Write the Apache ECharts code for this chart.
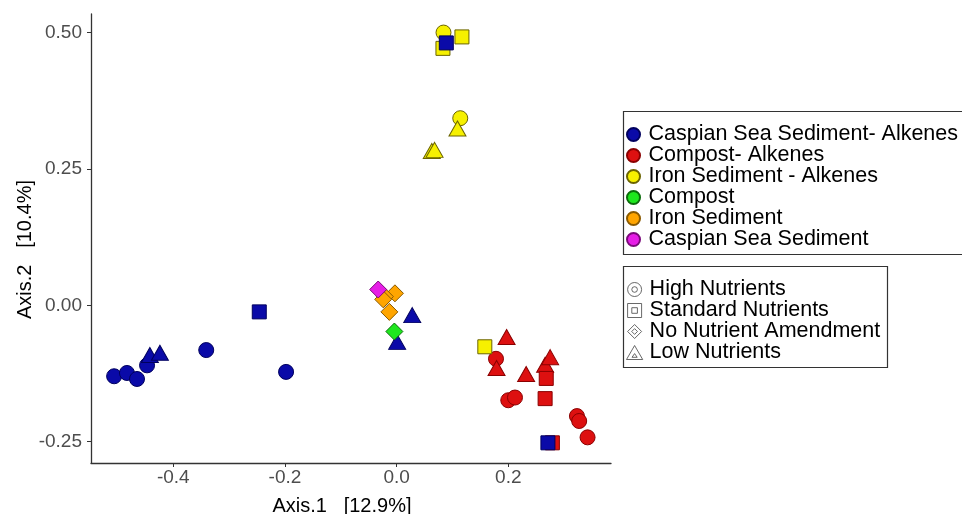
<!DOCTYPE html>
<html>
<head>
<meta charset="utf-8">
<script src="https://cdn.jsdelivr.net/npm/echarts@6/dist/echarts.min.js"></script>
<style>
  html, body { margin: 0; padding: 0; background: #ffffff; }
  #main { width: 962px; height: 514px; }
</style>
</head>
<body>
<div id="main"></div>
<script>
// Ordination scores: [Axis.1, Axis.2, nutrient treatment]
// H = High Nutrients, S = Standard Nutrients, N = No Nutrient Amendment, L = Low Nutrients
const caspianAlkenes = [
  [-0.506, -0.130, 'H'], [-0.483, -0.124, 'H'], [-0.465, -0.135, 'H'],
  [-0.447, -0.110, 'H'], [-0.341, -0.082, 'H'], [-0.198, -0.122, 'H'],
  [-0.442, -0.091, 'L'], [-0.424, -0.087, 'L'], [-0.246, -0.012, 'S'],
  [0.028, -0.018, 'L'], [0.001, -0.067, 'L'], [0.089, 0.481, 'S'],
  [0.271, -0.252, 'S']
];
const compostAlkenes = [
  [0.178, -0.098, 'H'], [0.179, -0.115, 'L'], [0.197, -0.058, 'L'],
  [0.232, -0.126, 'L'], [0.266, -0.109, 'L'], [0.275, -0.095, 'L'],
  [0.200, -0.174, 'H'], [0.212, -0.169, 'H'], [0.323, -0.203, 'H'],
  [0.327, -0.212, 'H'], [0.342, -0.242, 'H'], [0.268, -0.134, 'S'],
  [0.266, -0.171, 'S'], [0.279, -0.252, 'S']
];
const ironAlkenes = [
  [0.084, 0.500, 'H'], [0.117, 0.492, 'S'], [0.083, 0.471, 'S'],
  [0.114, 0.343, 'H'], [0.109, 0.324, 'L'], [0.063, 0.283, 'L'],
  [0.068, 0.285, 'L'], [0.158, -0.076, 'S']
];
const compost = [
  [-0.004, -0.048, 'N']
];
const ironSediment = [
  [-0.003, 0.022, 'N'], [-0.021, 0.016, 'N'], [-0.024, 0.011, 'N'],
  [-0.013, -0.012, 'N']
];
const caspianSediment = [
  [-0.033, 0.029, 'N']
];

const groupNames = [
  'Caspian Sea Sediment- Alkenes', 'Compost- Alkenes', 'Iron Sediment - Alkenes',
  'Compost', 'Iron Sediment', 'Caspian Sea Sediment'
];
const nutrientNames = ['High Nutrients', 'Standard Nutrients', 'No Nutrient Amendment', 'Low Nutrients'];
const xTicks = [-0.4, -0.2, 0.0, 0.2];
const yTicks = [-0.25, 0.0, 0.25, 0.50];

const FONT = '"Liberation Sans", Arial, Helvetica, sans-serif';

const symbolOf = { H: 'circle', S: 'rect', N: 'diamond', L: 'triangle' };
const sizeOf = { H: [15, 15], S: [14, 14], N: [17, 17], L: [17, 15] };

function groupSeries(name, data, fill, border) {
  return {
    name: name,
    type: 'scatter',
    data: data,
    symbol: v => symbolOf[v[2]],
    symbolSize: v => sizeOf[v[2]],
    itemStyle: { color: fill, borderColor: border, borderWidth: 1, opacity: 1 },
    emphasis: { disabled: true }
  };
}

// Draw order keeps later groups on top of earlier ones
const series = [
  groupSeries(groupNames[1], compostAlkenes, '#dd1010', '#8a0000'),
  groupSeries(groupNames[2], ironAlkenes, '#f6f000', '#6b6400'),
  groupSeries(groupNames[0], caspianAlkenes, '#0a0aa8', '#00005e'),
  groupSeries(groupNames[4], ironSediment, '#ffa500', '#8a5a00'),
  groupSeries(groupNames[3], compost, '#1ee61e', '#0b6b0b'),
  groupSeries(groupNames[5], caspianSediment, '#e61ee6', '#7a0a7a')
];
nutrientNames.forEach(n => series.push({
  name: n, type: 'scatter', data: [],
  itemStyle: { color: 'rgba(0,0,0,0)', borderColor: '#555', borderWidth: 1 }
}));

const iconPaths = [
  'path://M0,-10A10,10 0 1,1 0,10A10,10 0 1,1 0,-10ZM0,-4A4,4 0 1,1 0,4A4,4 0 1,1 0,-4Z',
  'path://M-10,-10L10,-10L10,10L-10,10ZM-4,-4L4,-4L4,4L-4,4Z',
  'path://M0,-11L11,0L0,11L-11,0ZM0,-4.5L4.5,0L0,4.5L-4.5,0Z',
  'path://M0,-10L11,9L-11,9ZM0,1L3.5,6L-3.5,6Z'
];

const chart = echarts.init(document.getElementById('main'), null, { renderer: 'canvas' });
chart.setOption({
  animation: false,
  backgroundColor: '#ffffff',
  textStyle: { fontFamily: FONT },
  grid: { left: 91, top: 14, right: 351, bottom: 51, containLabel: false, outerBoundsMode: 'none' },
  xAxis: {
    type: 'value', min: -0.5474, max: 0.384,
    splitLine: { show: false },
    axisLine: { show: true, onZero: false, lineStyle: { color: '#333', width: 1.3 } },
    axisTick: { show: true, length: 4, customValues: xTicks, lineStyle: { color: '#333', width: 1 } },
    axisLabel: {
      customValues: xTicks, formatter: v => v.toFixed(1),
      fontSize: 19, color: '#4d4d4d', margin: 5, fontFamily: FONT
    },
    name: 'Axis.1   [12.9%]', nameLocation: 'middle', nameGap: 33,
    nameTextStyle: { fontSize: 20, color: '#000', fontFamily: FONT, padding: [0, 18, 0, 0] }
  },
  yAxis: {
    type: 'value', min: -0.289, max: 0.534,
    splitLine: { show: false },
    axisLine: { show: true, onZero: false, lineStyle: { color: '#333', width: 1.3 } },
    axisTick: { show: true, length: 4, customValues: yTicks, lineStyle: { color: '#333', width: 1 } },
    axisLabel: {
      customValues: yTicks, formatter: v => v.toFixed(2),
      fontSize: 19, color: '#4d4d4d', margin: 9, fontFamily: FONT
    },
    name: 'Axis.2   [10.4%]', nameLocation: 'middle', nameGap: 56, nameMoveOverlap: false,
    nameTextStyle: { fontSize: 20, color: '#000', fontFamily: FONT, padding: [0, 22, 0, 0] }
  },
  legend: [
    {
      data: groupNames, orient: 'vertical', left: 626, top: 123.5,
      padding: 0, itemGap: -1, itemWidth: 20, itemHeight: 13, icon: 'circle',
      selectedMode: false,
      textStyle: { fontSize: 21.5, color: '#000', fontFamily: FONT }
    },
    {
      data: nutrientNames.map((n, i) => ({ name: n, icon: iconPaths[i] })),
      orient: 'vertical', left: 626, top: 278.5,
      padding: 0, itemGap: -1, itemWidth: 20, itemHeight: 14,
      selectedMode: false,
      itemStyle: { color: 'rgba(0,0,0,0)', borderColor: '#444', borderWidth: 1 },
      textStyle: { fontSize: 21.5, color: '#000', fontFamily: FONT }
    }
  ],
  graphic: [
    { type: 'rect', shape: { x: 623.5, y: 111.5, width: 420, height: 143 },
      style: { fill: 'none', stroke: '#333', lineWidth: 1.2 }, silent: true },
    { type: 'rect', shape: { x: 623.5, y: 266.5, width: 264, height: 101 },
      style: { fill: 'none', stroke: '#333', lineWidth: 1.2 }, silent: true }
  ],
  series: series
});
</script>
</body>
</html>
